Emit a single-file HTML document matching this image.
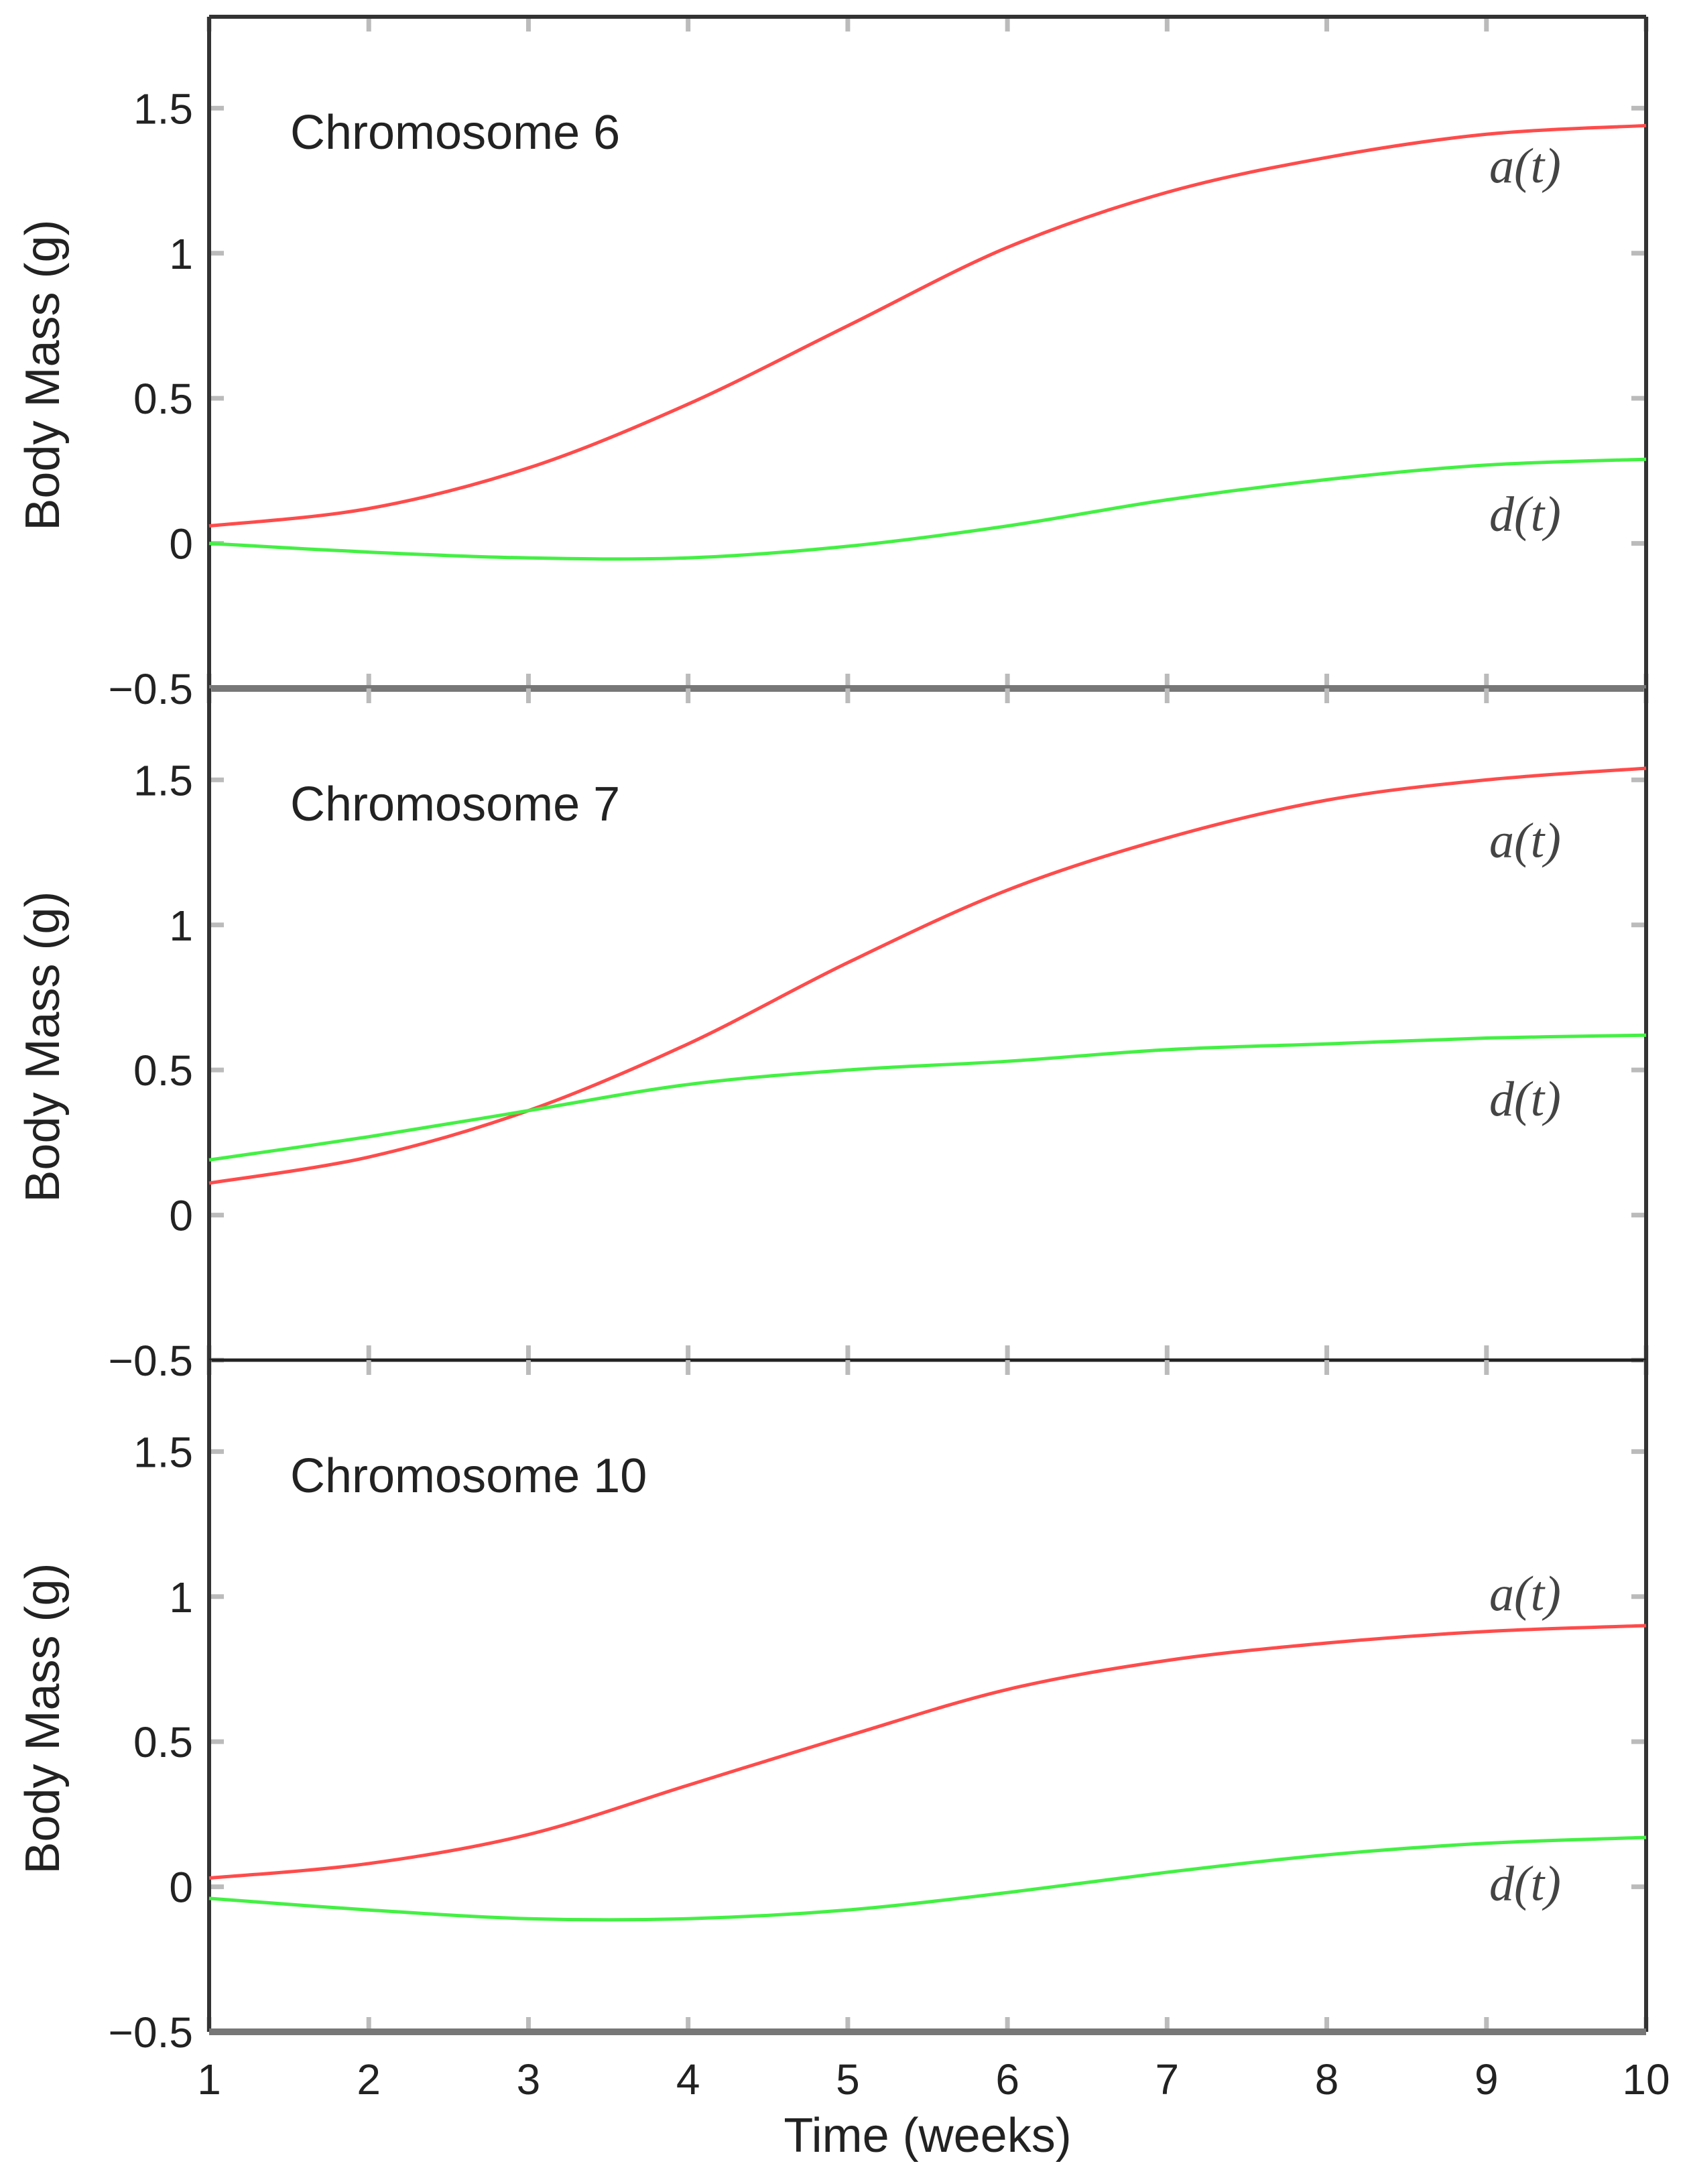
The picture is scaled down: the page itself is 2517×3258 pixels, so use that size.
<!DOCTYPE html>
<html><head><meta charset="utf-8"><style>
html,body{margin:0;padding:0;background:#fff;}
svg{display:block;}
text{font-family:"Liberation Sans",sans-serif;fill:#222;}
.it{font-family:"Liberation Serif",serif;font-style:italic;fill:#444;}
</style></head><body>
<svg id="chart" width="2517" height="3258" viewBox="0 0 2517 3258"></svg>
<script>
const weeks = [1,2,3,4,5,6,7,8,9,10];
const panelNames = ["Chromosome 6","Chromosome 7","Chromosome 10"];
const additive6 = [0.06,0.12,0.26,0.48,0.75,1.02,1.21,1.33,1.41,1.44];
const dominance6 = [0.00,-0.03,-0.05,-0.05,-0.01,0.06,0.15,0.22,0.27,0.29];
const additive7 = [0.11,0.20,0.36,0.59,0.87,1.12,1.30,1.43,1.50,1.54];
const dominance7 = [0.19,0.27,0.36,0.45,0.50,0.53,0.57,0.59,0.61,0.62];
const additive10 = [0.03,0.08,0.18,0.35,0.52,0.68,0.78,0.84,0.88,0.90];
const dominance10 = [-0.04,-0.08,-0.11,-0.11,-0.08,-0.02,0.05,0.11,0.15,0.17];
const yTicks = [-0.5,0,0.5,1,1.5];
const yTickLabels = ["\u22120.5","0","0.5","1","1.5"];
const xTickLabels = ["1","2","3","4","5","6","7","8","9","10"];
const labelA = [1.29,1.28,1.00];
const labelD = [0.09,0.39,0.00];

const NS="http://www.w3.org/2000/svg";
const svg=document.getElementById('chart');
const L=312,R=2456,H=1002,tops=[25,1027,2029];
const yMin=-0.5,yMax=1.815;
const xs=v=>L+(v-1)/9*(R-L);
function mk(tag,attrs,parent){const e=document.createElementNS(NS,tag);for(const k in attrs)e.setAttribute(k,attrs[k]);(parent||svg).appendChild(e);return e;}
function pathD(pts){let d=`M${pts[0][0]},${pts[0][1]}`;for(let i=0;i<pts.length-1;i++){const p0=pts[Math.max(0,i-1)],p1=pts[i],p2=pts[i+1],p3=pts[Math.min(pts.length-1,i+2)];const c1=[p1[0]+(p2[0]-p0[0])/6,p1[1]+(p2[1]-p0[1])/6],c2=[p2[0]-(p3[0]-p1[0])/6,p2[1]-(p3[1]-p1[1])/6];d+=` C${c1[0]},${c1[1]} ${c2[0]},${c2[1]} ${p2[0]},${p2[1]}`;}return d;}
const series=[[additive6,dominance6],[additive7,dominance7],[additive10,dominance10]];
tops.forEach((top,pi)=>{
  const ys=v=>top+H-(v-yMin)/(yMax-yMin)*H;
  const g=mk('g',{});
  
  
  yTicks.forEach((t,i)=>{
    const y=ys(t);
    const a=mk('line',{x1:L,x2:L+22,y1:y,y2:y,stroke:'#bbb','stroke-width':7},g);
    
    
    mk('line',{x1:R-22,x2:R,y1:y,y2:y,stroke:'#bbb','stroke-width':7},g);
    const tx=mk('text',{x:288,y:y+23,'font-size':64,'text-anchor':'end'},g);
    tx.textContent=yTickLabels[i];
    
    
  });
  weeks.forEach(w=>{
    const x=xs(w);
    const a=mk('line',{x1:x,x2:x,y1:top,y2:top+22,stroke:'#bbb','stroke-width':7},g);
    
    
    mk('line',{x1:x,x2:x,y1:top+H-22,y2:top+H,stroke:'#bbb','stroke-width':7},g);
  });
  mk('line',{x1:L,x2:L,y1:top,y2:top+H,stroke:'#333','stroke-width':6},g);
  mk('line',{x1:R,x2:R,y1:top,y2:top+H,stroke:'#333','stroke-width':6},g);
  if(pi===0) mk('line',{x1:L,x2:R,y1:top,y2:top,stroke:'#333','stroke-width':6},g);
  const thick=(pi!==1);
  mk('line',{x1:L,x2:R,y1:top+H,y2:top+H,stroke:thick?'#777':'#222','stroke-width':thick?10:5},g);
  const tt=mk('text',{x:433,y:ys(1.42)+26,'font-size':72},g);
  tt.textContent=panelNames[pi];
  
  
  const yt=mk('text',{x:0,y:0,'font-size':72,'text-anchor':'middle',transform:`translate(88,${ys(0.58)}) rotate(-90)`},g);
  yt.textContent='Body Mass (g)';
  
  
  const [a,d]=series[pi];
  const pa=mk('path',{d:pathD(weeks.map((w,i)=>[xs(w),ys(a[i])])),fill:'none',stroke:'#ff4b4b','stroke-width':5},g);
  
  
  const pd=mk('path',{d:pathD(weeks.map((w,i)=>[xs(w),ys(d[i])])),fill:'none',stroke:'#44f044','stroke-width':5},g);
  
  
  const la=mk('text',{x:2222,y:ys(labelA[pi])+20,'font-size':74,class:'it'},g);
  la.textContent='a(t)';
  
  
  const ld=mk('text',{x:2222,y:ys(labelD[pi])+20,'font-size':74,class:'it'},g);
  ld.textContent='d(t)';
  
  
});
xTickLabels.forEach((t,i)=>{
  const tx=mk('text',{x:xs(weeks[i]),y:3124,'font-size':64,'text-anchor':'middle'});
  tx.textContent=t;
  
  
});
const xt=mk('text',{x:1384,y:3210,'font-size':72,'text-anchor':'middle'});
xt.textContent='Time (weeks)';


</script>
</body></html>
